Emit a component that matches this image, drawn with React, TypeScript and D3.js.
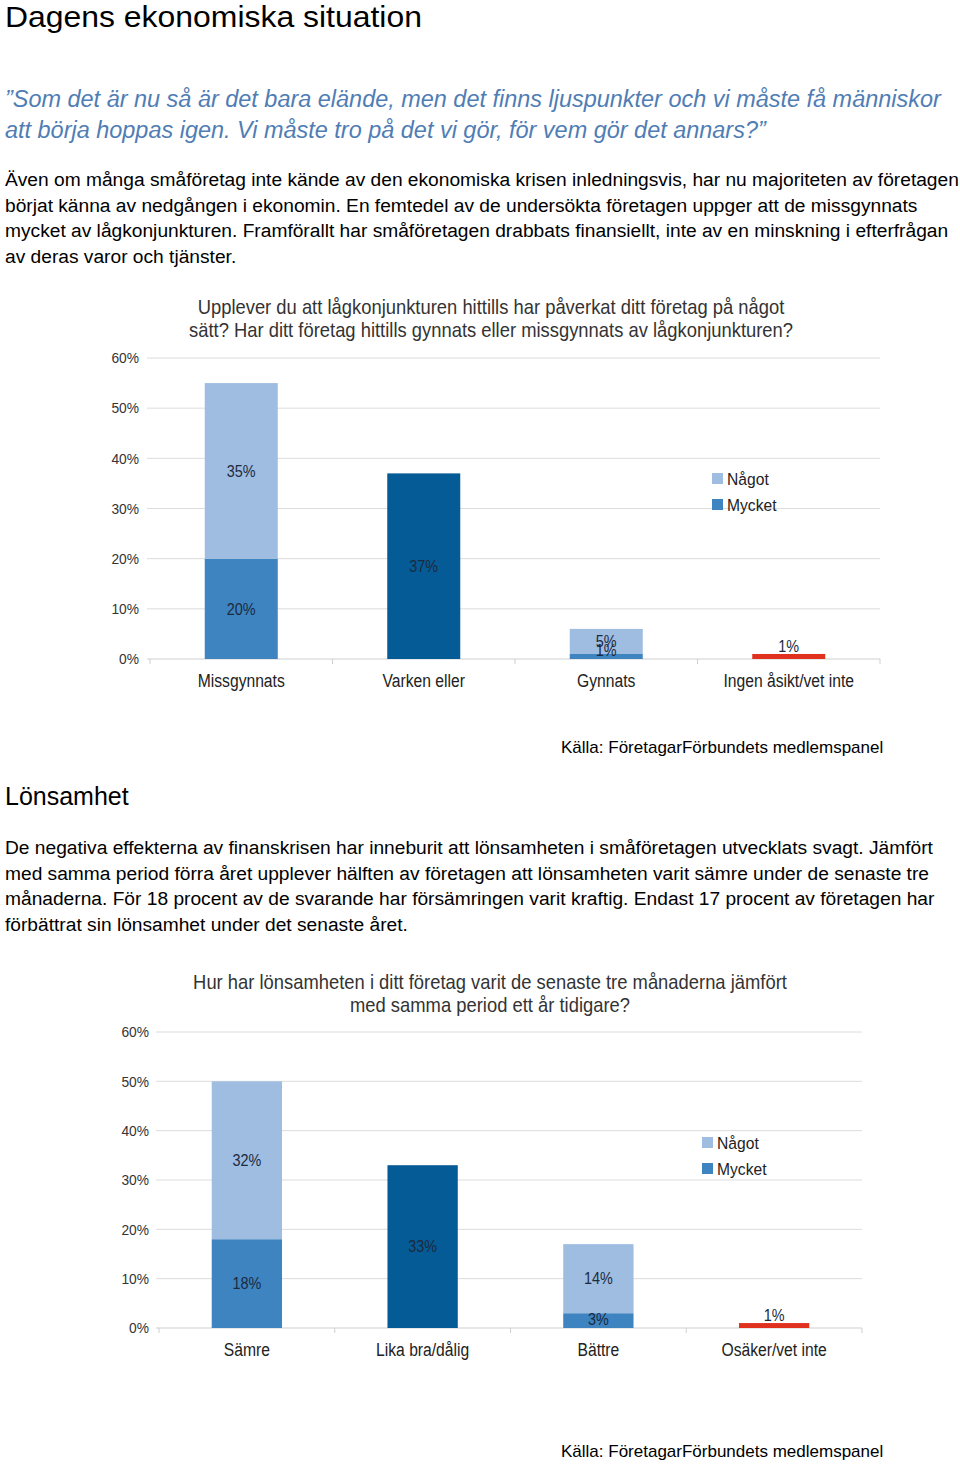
import React from "react";
import * as d3 from "d3";

// ---------- Data ----------
const pageTitle = "Dagens ekonomiska situation";
const quoteLines = [
  "”Som det är nu så är det bara elände, men det finns ljuspunkter och vi måste få människor",
  "att börja hoppas igen. Vi måste tro på det vi gör, för vem gör det annars?”",
];
const para1Lines = [
  "Även om många småföretag inte kände av den ekonomiska krisen inledningsvis, har nu majoriteten av företagen",
  "börjat känna av nedgången i ekonomin. En femtedel av de undersökta företagen uppger att de missgynnats",
  "mycket av lågkonjunkturen. Framförallt har småföretagen drabbats finansiellt, inte av en minskning i efterfrågan",
  "av deras varor och tjänster.",
];
const section2Title = "Lönsamhet";
const para2Lines = [
  "De negativa effekterna av finanskrisen har inneburit att lönsamheten i småföretagen utvecklats svagt. Jämfört",
  "med samma period förra året upplever hälften av företagen att lönsamheten varit sämre under de senaste tre",
  "månaderna. För 18 procent av de svarande har försämringen varit kraftig. Endast 17 procent av företagen har",
  "förbättrat sin lönsamhet under det senaste året.",
];
const sourceText = "Källa: FöretagarFörbundets medlemspanel";

const yTicks = [0, 10, 20, 30, 40, 50, 60];
const legendLabels = ["Något", "Mycket"];

const chart1Title = [
  "Upplever du att lågkonjunkturen hittills har påverkat ditt företag på något",
  "sätt? Har ditt företag hittills gynnats eller missgynnats av lågkonjunkturen?",
];
const cats1 = ["Missgynnats", "Varken eller", "Gynnats", "Ingen åsikt/vet inte"];
const mycket1 = [20, 0, 1, 0];
const nagot1 = [35, 0, 5, 0];
const neutral1 = [0, 37, 0, 0];
const unsure1 = [0, 0, 0, 1];

const chart2Title = [
  "Hur har lönsamheten i ditt företag varit de senaste tre månaderna jämfört",
  "med samma period ett år tidigare?",
];
const cats2 = ["Sämre", "Lika bra/dålig", "Bättre", "Osäker/vet inte"];
const mycket2 = [18, 0, 3, 0];
const nagot2 = [32, 0, 14, 0];
const neutral2 = [0, 33, 0, 0];
const unsure2 = [0, 0, 0, 1];

// ---------- Styles ----------
const C_NAGOT = "#9fbde0";
const C_MYCKET = "#3d84c0";
const C_NEUTRAL = "#055b95";
const C_RED = "#e0301e";
const GRID = "#dcdcdc";
const SANS = "'Liberation Sans', Arial, Helvetica, sans-serif";

type TProps = {
  x: number;
  y: number;
  size: number;
  sx?: number;
  anchor?: "start" | "middle" | "end";
  fill?: string;
  italic?: boolean;
  central?: boolean;
  children: React.ReactNode;
};

function T({ x, y, size, sx = 1, anchor = "start", fill = "#000", italic, central, children }: TProps) {
  return (
    <text
      transform={`translate(${x},${y}) scale(${sx},1)`}
      textAnchor={anchor}
      dominantBaseline={central ? "central" : undefined}
      style={{ fontFamily: SANS, fontSize: size, fill, fontStyle: italic ? "italic" : "normal" }}
    >
      {children}
    </text>
  );
}

type ChartProps = {
  title: string[];
  cats: string[];
  mycket: number[];
  nagot: number[];
  neutral: number[];
  unsure: number[];
  x0: number;
  x1: number;
  yZero: number;
  yTop: number;
  titleX: number;
  titleY: number;
  legendX: number;
  legendY: number;
  tickLabelX: number;
};

function Chart(p: ChartProps) {
  const x = d3.scaleBand<string>().domain(p.cats).range([p.x0, p.x1]).paddingInner(0.6).paddingOuter(0.3);
  const band = d3.scaleBand<string>().domain(p.cats).range([p.x0, p.x1]);
  const y = d3.scaleLinear().domain([0, 60]).range([p.yZero, p.yTop]);
  const bw = x.bandwidth();
  const LBL = "#1c2a40";

  const segLabel = (lo: number, hi: number) => {
    const mid = y((lo + hi) / 2);
    return Math.min(mid, p.yZero - 9);
  };

  return (
    <g>
      {p.title.map((t, i) => (
        <T key={i} x={p.titleX} y={p.titleY + i * 23} size={20} sx={0.92} anchor="middle" central fill="#333">{t}</T>
      ))}
      {yTicks.map((t) => (
        <g key={t}>
          <line x1={p.x0 - 3} x2={p.x1} y1={y(t)} y2={y(t)} stroke={t === 0 ? "#cfcfcf" : GRID} strokeWidth={1} />
          <T x={p.tickLabelX} y={y(t)} size={15} sx={0.92} anchor="end" central fill="#333">{t}%</T>
        </g>
      ))}
      {p.cats.map((c, i) => (
        <line key={"tk" + i} x1={band(c)!} x2={band(c)!} y1={p.yZero} y2={p.yZero + 5} stroke="#cfcfcf" />
      ))}
      <line x1={p.x1} x2={p.x1} y1={p.yZero} y2={p.yZero + 5} stroke="#cfcfcf" />
      {p.cats.map((c, i) => {
        const bx = x(c)!;
        const cx = bx + bw / 2;
        const els: React.ReactNode[] = [];
        if (p.mycket[i] > 0) {
          els.push(<rect key="m" x={bx} width={bw} y={y(p.mycket[i])} height={y(0) - y(p.mycket[i])} fill={C_MYCKET} />);
        }
        if (p.nagot[i] > 0) {
          const lo = p.mycket[i];
          const hi = lo + p.nagot[i];
          els.push(<rect key="n" x={bx} width={bw} y={y(hi)} height={y(lo) - y(hi)} fill={C_NAGOT} />);
        }
        if (p.neutral[i] > 0) {
          els.push(<rect key="u" x={bx} width={bw} y={y(p.neutral[i])} height={y(0) - y(p.neutral[i])} fill={C_NEUTRAL} />);
        }
        if (p.unsure[i] > 0) {
          els.push(<rect key="r" x={bx} width={bw} y={y(p.unsure[i])} height={y(0) - y(p.unsure[i])} fill={C_RED} />);
        }
        if (p.nagot[i] > 0) {
          const lo = p.mycket[i];
          const hi = lo + p.nagot[i];
          els.push(<T key="nl" x={cx} y={segLabel(lo, hi)} size={16} sx={0.9} anchor="middle" central fill={LBL}>{p.nagot[i]}%</T>);
        }
        if (p.mycket[i] > 0) {
          els.push(<T key="ml" x={cx} y={segLabel(0, p.mycket[i])} size={16} sx={0.9} anchor="middle" central fill={LBL}>{p.mycket[i]}%</T>);
        }
        if (p.neutral[i] > 0) {
          els.push(<T key="ul" x={cx} y={y(p.neutral[i] / 2)} size={16} sx={0.9} anchor="middle" central fill={LBL}>{p.neutral[i]}%</T>);
        }
        if (p.unsure[i] > 0) {
          els.push(<T key="rl" x={cx} y={y(p.unsure[i]) - 8} size={16} sx={0.9} anchor="middle" central fill={LBL}>{p.unsure[i]}%</T>);
        }
        els.push(<T key="cl" x={cx} y={p.yZero + 22} size={18} sx={0.87} anchor="middle" central fill="#222">{c}</T>);
        return <g key={c}>{els}</g>;
      })}
      {legendLabels.map((l, i) => (
        <g key={l}>
          <rect x={p.legendX} y={p.legendY + i * 26 - 6} width={11} height={11} fill={i === 0 ? C_NAGOT : C_MYCKET} />
          <T x={p.legendX + 15} y={p.legendY + i * 26} size={17} sx={0.92} central fill="#222">{l}</T>
        </g>
      ))}
    </g>
  );
}

export default function App() {
  return (
    <svg width={960} height={1464} style={{ position: "absolute", left: 0, top: 0, background: "#fff" }}>
      <rect width={960} height={1464} fill="#fff" />
      <T x={5} y={27} size={30} sx={1.064}>{pageTitle}</T>
      {quoteLines.map((l, i) => (
        <T key={i} x={5} y={107 + i * 31} size={23} sx={1.02} italic fill="#4f7db4">{l}</T>
      ))}
      {para1Lines.map((l, i) => (
        <T key={i} x={5} y={186 + i * 25.5} size={19} sx={1.01}>{l}</T>
      ))}
      <Chart title={chart1Title} cats={cats1} mycket={mycket1} nagot={nagot1} neutral={neutral1} unsure={unsure1}
        x0={150} x1={880} yZero={659} yTop={358} titleX={491} titleY={307} legendX={712} legendY={479} tickLabelX={139} />
      <T x={561} y={753} size={17}>{sourceText}</T>
      <T x={5} y={805} size={25}>{section2Title}</T>
      {para2Lines.map((l, i) => (
        <T key={i} x={5} y={854 + i * 25.5} size={19} sx={1.01}>{l}</T>
      ))}
      <Chart title={chart2Title} cats={cats2} mycket={mycket2} nagot={nagot2} neutral={neutral2} unsure={unsure2}
        x0={159} x1={862} yZero={1328} yTop={1032} titleX={490} titleY={982} legendX={702} legendY={1143} tickLabelX={149} />
      <T x={561} y={1457} size={17}>{sourceText}</T>
    </svg>
  );
}
